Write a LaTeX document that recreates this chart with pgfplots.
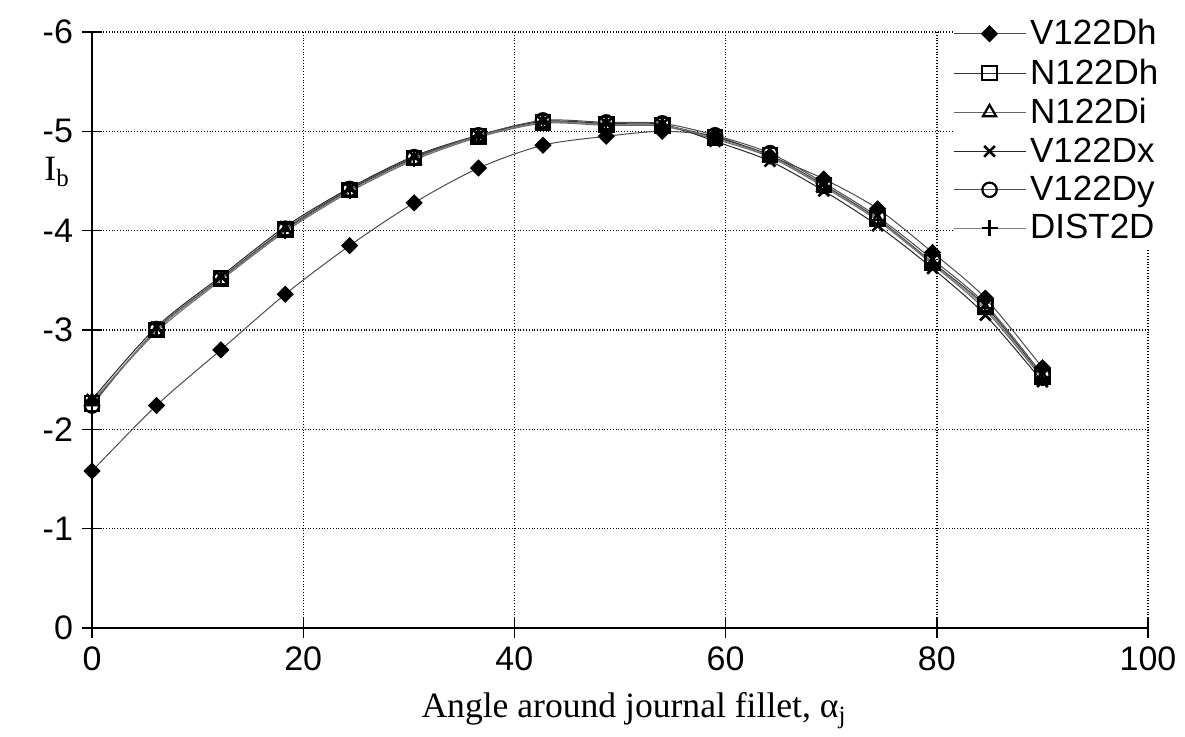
\documentclass[border=0pt]{standalone}
\usepackage{fontspec}
\setmainfont{Liberation Serif}
\setsansfont{Liberation Sans}
\usepackage{pgfplots}
\pgfplotsset{compat=1.18}
\begin{document}
\begin{tikzpicture}[x=1pt,y=1pt]
\path[use as bounding box] (-46,-54.5) rectangle (546.5,314);
\begin{axis}[
  at={(0,0)}, anchor=south west,
  scale only axis, width=528pt, height=298pt,
  xmin=0, xmax=100, ymin=-6, ymax=0, y dir=reverse,
  xtick={0,20,...,100}, ytick={-6,-5,...,0},
  grid=major, grid style={densely dotted, black, line width=0.7pt},
  axis x line*=bottom, axis y line*=left,
  axis line style={-, black, line width=0.8pt},
  every tick/.style={black, line width=0.7pt},
  tick align=center, major tick length=10pt,
  /pgf/number format/assume math mode=true,
  ticklabel style={font=\sffamily\fontsize{17}{17}\selectfont},
  yticklabel style={xshift=-1pt},
  xticklabel style={yshift=-1pt},
  xlabel={Angle around journal fillet, α\textsubscript{j}},
  xlabel style={font=\fontsize{17.8}{17.8}\selectfont, yshift=-4pt, xshift=7pt},
  ylabel={I\textsubscript{b}},
  ylabel style={font=\fontsize{17.8}{17.8}\selectfont, rotate=-90, at={(axis description cs:-0.033,0.765)}, anchor=center},
  legend cell align=left,
  legend style={at={(axis description cs:0.815,1.035)}, anchor=north west, draw=none, fill=white,
    font=\sffamily\fontsize{17.5}{17.5}\selectfont, row sep=1.5pt, inner xsep=0pt,
    /tikz/every even column/.append style={column sep=4.5pt}},
  legend image code/.code={\draw[mark repeat=2,mark phase=2,#1] plot coordinates {(0pt,0pt) (18pt,0pt) (36pt,0pt)};},
  every axis plot/.append style={line width=0.5pt, smooth, tension=0.5},
]
\addplot[black!70, mark=square*, mark size=2.8pt, mark options={solid, fill=black, draw=black, rotate=45}] coordinates {
(0,-1.58) (6.1,-2.24) (12.2,-2.80) (18.3,-3.36) (24.4,-3.85) (30.5,-4.28) (36.6,-4.63) (42.7,-4.86) (48.7,-4.95) (54.0,-5.00) (59.0,-4.95) (64.2,-4.75) (69.3,-4.52) (74.4,-4.22) (79.6,-3.78) (84.6,-3.32) (90.0,-2.62)};
\addlegendentry{V122Dh}
\addplot[black!80, mark=square, mark size=3.6pt, mark options={solid, black, line width=1.1pt}] coordinates {
(0,-2.26) (6.1,-3.00) (12.2,-3.52) (18.3,-4.01) (24.4,-4.41) (30.5,-4.73) (36.6,-4.95) (42.7,-5.09) (48.7,-5.07) (54.0,-5.06) (59.0,-4.94) (64.2,-4.76) (69.3,-4.46) (74.4,-4.12) (79.6,-3.68) (84.6,-3.24) (90.0,-2.53)};
\addlegendentry{N122Dh}
\addplot[black!60, mark=triangle, mark size=3.8pt, mark options={solid, black, line width=1.1pt}] coordinates {
(0,-2.28) (6.1,-2.98) (12.2,-3.50) (18.3,-3.99) (24.4,-4.39) (30.5,-4.71) (36.6,-4.94) (42.7,-5.08) (48.7,-5.06) (54.0,-5.05) (59.0,-4.92) (64.2,-4.74) (69.3,-4.44) (74.4,-4.10) (79.6,-3.66) (84.6,-3.20) (90.0,-2.51)};
\addlegendentry{N122Di}
\addplot[black!85, mark=x, mark size=3.8pt, mark options={solid, black, line width=1.3pt}] coordinates {
(0,-2.30) (6.1,-3.03) (12.2,-3.54) (18.3,-4.04) (24.4,-4.43) (30.5,-4.75) (36.6,-4.96) (42.7,-5.10) (48.7,-5.08) (54.0,-5.07) (59.0,-4.90) (64.2,-4.70) (69.3,-4.40) (74.4,-4.05) (79.6,-3.62) (84.6,-3.15) (90.0,-2.48)};
\addlegendentry{V122Dx}
\addplot[black!70, mark=o, mark size=3.6pt, mark options={solid, black, line width=1.1pt}] coordinates {
(0,-2.24) (6.1,-3.01) (12.2,-3.52) (18.3,-4.02) (24.4,-4.42) (30.5,-4.74) (36.6,-4.96) (42.7,-5.11) (48.7,-5.09) (54.0,-5.08) (59.0,-4.96) (64.2,-4.78) (69.3,-4.48) (74.4,-4.14) (79.6,-3.71) (84.6,-3.26) (90.0,-2.55)};
\addlegendentry{V122Dy}
\addplot[black!50, mark=+, mark size=4pt, mark options={solid, black, line width=1.1pt}] coordinates {
(0,-2.27) (6.1,-3.00) (12.2,-3.51) (18.3,-4.00) (24.4,-4.40) (30.5,-4.72) (36.6,-4.95) (42.7,-5.09) (48.7,-5.07) (54.0,-5.06) (59.0,-4.93) (64.2,-4.75) (69.3,-4.45) (74.4,-4.11) (79.6,-3.67) (84.6,-3.22) (90.0,-2.52)};
\addlegendentry{DIST2D}
\end{axis}
\end{tikzpicture}
\end{document}
